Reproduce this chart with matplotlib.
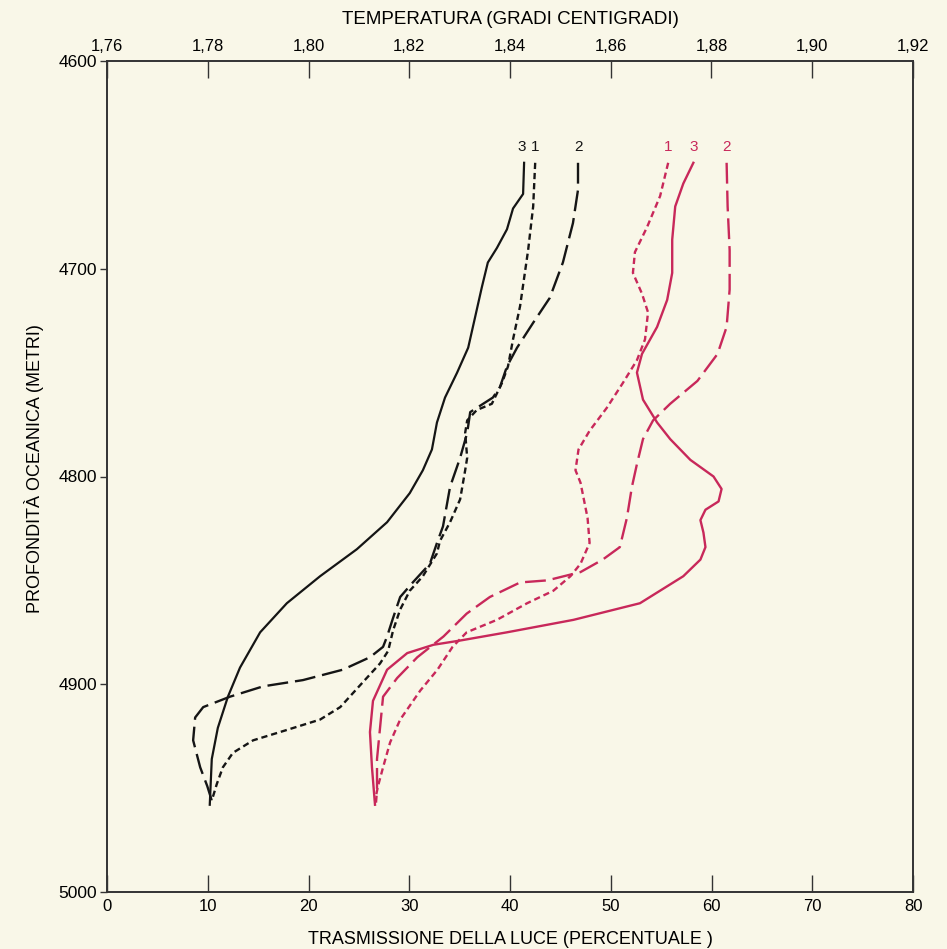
import matplotlib
matplotlib.use("Agg")
import matplotlib.pyplot as plt

plt.rcParams['lines.scale_dashes'] = False

# ---------------- data ----------------
depth_ticks = [4600, 4700, 4800, 4900, 5000]
depth_labels = ['4600', '4700', '4800', '4900', '5000']
pct_ticks = [0, 10, 20, 30, 40, 50, 60, 70, 80]
pct_labels = ['0', '10', '20', '30', '40', '50', '60', '70', '80']
temp_ticks = [1.76, 1.78, 1.80, 1.82, 1.84, 1.86, 1.88, 1.90, 1.92]
temp_labels = ['1,76', '1,78', '1,80', '1,82', '1,84', '1,86', '1,88', '1,90', '1,92']

# Temperature profiles (black), stations 1,2,3
temp1_T = [1.8450, 1.8446, 1.8436, 1.8420, 1.8406, 1.8396, 1.8384, 1.8364, 1.8334, 1.8315,
           1.8311, 1.8315, 1.8311, 1.8301, 1.8281, 1.8261, 1.8255, 1.8227, 1.8201, 1.8182,
           1.8168, 1.8158, 1.8142, 1.8108, 1.8063, 1.8023, 1.7957, 1.7890, 1.7850, 1.7830,
           1.7818, 1.7808]
temp1_d = [4649, 4670, 4691, 4718, 4734, 4747, 4755, 4765, 4768, 4773,
           4779, 4791, 4797, 4811, 4822, 4831, 4837, 4848, 4855, 4864,
           4874, 4884, 4890, 4899, 4911, 4917, 4922, 4927, 4933, 4940,
           4948, 4956]

temp2_T = [1.8535, 1.8535, 1.8525, 1.8505, 1.8479, 1.8446, 1.8414, 1.8394, 1.8380, 1.8366,
           1.8321, 1.8315, 1.8301, 1.8281, 1.8267, 1.8255, 1.8241, 1.8207, 1.8182, 1.8168,
           1.8156, 1.8148, 1.8122, 1.8068, 1.7989, 1.7910, 1.7844, 1.7791, 1.7775, 1.7771,
           1.7785, 1.7799, 1.7808]
temp2_d = [4649, 4662, 4678, 4697, 4714, 4726, 4738, 4747, 4757, 4762,
           4769, 4779, 4791, 4805, 4824, 4832, 4842, 4851, 4858, 4868,
           4877, 4882, 4887, 4893, 4898, 4901, 4906, 4911, 4916, 4927,
           4940, 4949, 4956]

temp3_T = [1.8428, 1.8426, 1.8406, 1.8394, 1.8374, 1.8356, 1.8344, 1.8331, 1.8317, 1.8295,
           1.8271, 1.8255, 1.8245, 1.8227, 1.8201, 1.8156, 1.8096, 1.8023, 1.7957, 1.7904,
           1.7864, 1.7840, 1.7820, 1.7808, 1.7804]
temp3_d = [4649, 4664, 4671, 4681, 4690, 4697, 4709, 4723, 4738, 4750,
           4762, 4774, 4787, 4797, 4808, 4822, 4835, 4848, 4861, 4875,
           4892, 4906, 4921, 4936, 4958]

# Light transmission profiles (red), stations 1,2,3
trans1_p = [55.7, 54.9, 53.6, 52.4, 52.2, 53.1, 53.7, 53.4, 52.6, 51.2,
            49.6, 47.9, 46.8, 46.5, 47.0, 47.7, 47.9, 47.0, 46.0, 44.3,
            41.7, 38.7, 35.7, 34.3, 32.8, 31.1, 29.1, 28.1, 27.4, 26.9, 26.6]
trans1_d = [4649, 4665, 4680, 4692, 4702, 4712, 4721, 4734, 4744, 4755,
            4767, 4778, 4787, 4797, 4803, 4820, 4832, 4842, 4848, 4855,
            4861, 4869, 4875, 4882, 4893, 4903, 4917, 4928, 4940, 4949, 4956]

trans2_p = [61.5, 61.6, 61.8, 61.8, 61.5, 60.6, 58.6, 55.9, 54.2, 53.2,
            52.6, 52.1, 51.6, 50.9, 49.2, 47.0, 43.7, 41.0, 38.0, 35.7,
            33.4, 30.8, 28.8, 27.4, 27.1, 26.8, 26.8, 26.7]
trans2_d = [4649, 4670, 4691, 4710, 4728, 4741, 4754, 4765, 4773, 4782,
            4794, 4805, 4820, 4834, 4840, 4846, 4850, 4851, 4858, 4866,
            4877, 4887, 4897, 4906, 4921, 4936, 4951, 4957]

trans3_p = [58.2, 57.2, 56.4, 56.1, 56.1, 55.6, 54.6, 53.1, 52.6, 53.2,
            54.6, 55.9, 57.9, 60.2, 61.0, 60.7, 59.4, 58.9, 59.2, 59.4,
            58.9, 57.2, 52.9, 46.3, 39.7, 35.0, 32.4, 29.8, 27.8, 26.4,
            26.1, 26.3, 26.6]
trans3_d = [4649, 4659, 4670, 4686, 4702, 4715, 4728, 4741, 4750, 4763,
            4774, 4782, 4792, 4800, 4806, 4812, 4816, 4821, 4827, 4834,
            4840, 4848, 4861, 4869, 4875, 4879, 4881, 4885, 4893, 4908,
            4923, 4940, 4958]

station_labels = ['1', '2', '3']
label_depth = 4645

# ---------------- style ----------------
BG = '#f9f7e8'
RED = '#c8285a'
BLACK = '#151515'
FONT = ['Liberation Sans', 'DejaVu Sans']

SHORT = (0, (4.5, 2.8))
LONG = (0, (15, 5))

fig = plt.figure(figsize=(9.47, 9.49), dpi=100, facecolor=BG)
ax = fig.add_axes([107/947, 1 - 892/949, 806/947, 831/949])
ax.set_facecolor(BG)
ax2 = ax.twiny()

ax.set_xlim(0, 80)
ax.set_ylim(5000, 4600)
ax2.set_xlim(1.76, 1.92)

# red: light transmission (bottom axis)
ax.plot(trans1_p, trans1_d, color=RED, lw=1.7, linestyle=SHORT)
ax.plot(trans2_p, trans2_d, color=RED, lw=1.7, linestyle=LONG)
ax.plot(trans3_p, trans3_d, color=RED, lw=1.7, linestyle='-', solid_joinstyle='round')

# black: temperature (top axis)
ax2.plot(temp1_T, temp1_d, color=BLACK, lw=1.7, linestyle=SHORT)
ax2.plot(temp2_T, temp2_d, color=BLACK, lw=1.7, linestyle=LONG)
ax2.plot(temp3_T, temp3_d, color=BLACK, lw=1.6, linestyle='-', solid_joinstyle='round')

# station labels at top of each profile
for T, lab in zip([temp1_T[0], temp2_T[0], temp3_T[0]], station_labels):
    dx = -0.0004 if lab == '3' else 0
    ax2.text(T + dx, label_depth, lab, color=BLACK, ha='center', va='bottom',
             fontsize=11, family=FONT)
for p, lab in zip([trans1_p[0], trans2_p[0], trans3_p[0]], station_labels):
    ax.text(p, label_depth, lab, color=RED, ha='center', va='bottom',
            fontsize=11, family=FONT)

# ticks
ax.set_xticks(pct_ticks)
ax.set_xticklabels(pct_labels, family=FONT, fontsize=12)
ax.set_yticks(depth_ticks)
ax.set_yticklabels(depth_labels, family=FONT, fontsize=12.5)
ax2.set_xticks(temp_ticks)
ax2.set_xticklabels(temp_labels, family=FONT, fontsize=12)

ax.tick_params(axis='x', direction='in', length=12, width=1.0, color='#333333', pad=5)
ax.tick_params(axis='y', direction='out', length=5, width=1.0, color='#333333', pad=2)
ax2.tick_params(axis='x', direction='in', length=12, width=1.0, color='#333333', pad=5)

for a in (ax, ax2):
    for s in a.spines.values():
        s.set_color('#333333')
        s.set_linewidth(1.2)

ax.set_xlabel('TRASMISSIONE DELLA LUCE (PERCENTUALE )', family=FONT, fontsize=13, labelpad=12)
ax2.set_xlabel('TEMPERATURA (GRADI CENTIGRADI)', family=FONT, fontsize=13.5, labelpad=11)
ax.set_ylabel('PROFONDITÀ OCEANICA (METRI)', family=FONT, fontsize=13, labelpad=11)
ax.yaxis.set_label_coords(-0.078, 0.51)

fig.savefig('out.png', dpi=100, facecolor=BG)
